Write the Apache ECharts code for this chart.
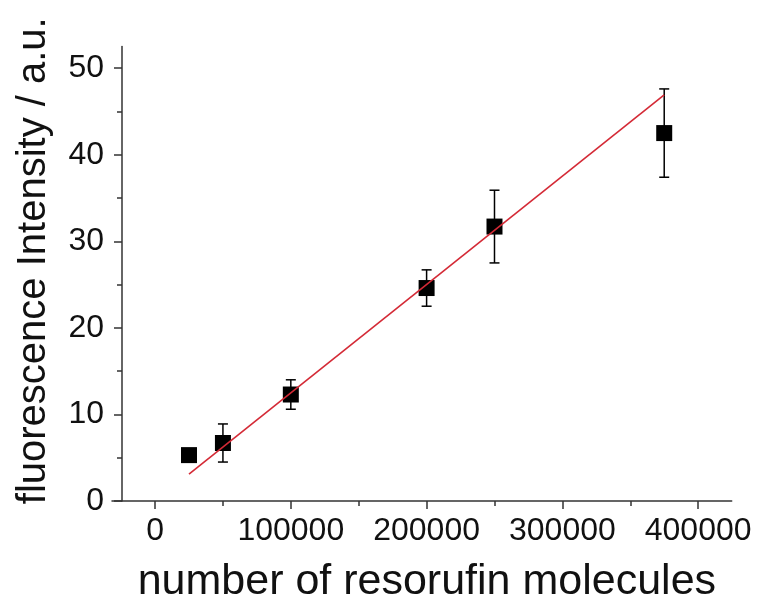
<!DOCTYPE html>
<html>
<head>
<meta charset="utf-8">
<script src="https://cdn.jsdelivr.net/npm/echarts@6/dist/echarts.min.js"></script>
<style>
html,body{margin:0;padding:0;background:#fff;}
#chart{width:761px;height:604px;}
</style>
</head>
<body>
<div id="chart"></div>
<script>
// Data
const xValues = [25000, 50000, 100000, 200000, 250000, 375000];
const yValues = [5.3, 6.7, 12.3, 24.6, 31.7, 42.5];
const yErrors = [0, 2.2, 1.7, 2.1, 4.2, 5.1];
const fitX = [25000, 375000];
const fitY = [3.1, 46.9];

// Tick labels / tick positions
const xTickLabels = [0, 100000, 200000, 300000, 400000];
const xMinorTicks = [50000, 150000, 250000, 350000];
const yTickLabels = [0, 10, 20, 30, 40, 50];
const yMinorTicks = [5, 15, 25, 35, 45];

const xTitle = 'number of resorufin molecules';
const yTitle = 'fluorescence Intensity / a.u.';

const FONT = '"Liberation Sans", Arial, sans-serif';
const AXIS_COLOR = '#333';
const TEXT_COLOR = '#111';

const points = xValues.map((x, i) => [x, yValues[i]]);
const errData = xValues.map((x, i) => [x, yValues[i] - yErrors[i], yValues[i] + yErrors[i]]);
const fitData = fitX.map((x, i) => [x, fitY[i]]);

const chart = echarts.init(document.getElementById('chart'), null, {renderer: 'canvas'});

const xMin = -31700, xMax = 424700;
const yMin = 0, yMax = 52.5;

chart.setOption({
  animation: false,
  backgroundColor: '#fff',
  grid: {left: 112, right: 29.3, top: 46.5, bottom: 103, outerBoundsMode: 'none', containLabel: false},
  xAxis: [
    {
      type: 'value', min: xMin, max: xMax, position: 'bottom',
      name: xTitle, nameLocation: 'middle', nameGap: 60,
      nameTextStyle: {fontFamily: FONT, fontSize: 43, color: TEXT_COLOR, padding: [0, 0, 0, 10]},
      axisLine: {show: true, onZero: false, lineStyle: {color: AXIS_COLOR, width: 1.5}},
      axisTick: {show: true, inside: false, length: 8, customValues: xTickLabels, lineStyle: {color: AXIS_COLOR, width: 1.5}},
      axisLabel: {show: true, customValues: xTickLabels, margin: 14, fontFamily: FONT, fontSize: 32, color: TEXT_COLOR, formatter: v => String(v)},
      splitLine: {show: false}
    },
    {
      type: 'value', min: xMin, max: xMax, position: 'bottom',
      axisLine: {show: false, onZero: false},
      axisTick: {show: true, inside: false, length: 5, customValues: xMinorTicks, lineStyle: {color: AXIS_COLOR, width: 1.5}},
      axisLabel: {show: false},
      splitLine: {show: false}
    }
  ],
  yAxis: [
    {
      type: 'value', min: yMin, max: yMax, position: 'left', offset: -10,
      name: yTitle, nameLocation: 'middle', nameGap: 68, nameRotate: 90,
      nameTextStyle: {fontFamily: FONT, fontSize: 40, color: TEXT_COLOR, padding: [0, 0, 0, 26]},
      axisLine: {show: true, onZero: false, lineStyle: {color: AXIS_COLOR, width: 1.5}},
      axisTick: {show: true, inside: false, length: 8, customValues: yTickLabels, lineStyle: {color: AXIS_COLOR, width: 1.5}},
      axisLabel: {show: true, customValues: yTickLabels, margin: 18, fontFamily: FONT, fontSize: 32, color: TEXT_COLOR},
      splitLine: {show: false}
    },
    {
      type: 'value', min: yMin, max: yMax, position: 'left', offset: -10,
      axisLine: {show: false, onZero: false},
      axisTick: {show: true, inside: false, length: 5, customValues: yMinorTicks, lineStyle: {color: AXIS_COLOR, width: 1.5}},
      axisLabel: {show: false},
      splitLine: {show: false}
    }
  ],
  series: [
    {
      type: 'custom', xAxisIndex: 0, yAxisIndex: 0, z: 2,
      data: errData,
      renderItem: function (params, api) {
        const x = api.value(0);
        const lo = api.coord([x, api.value(1)]);
        const hi = api.coord([x, api.value(2)]);
        const cap = 5;
        const style = {stroke: '#000', lineWidth: 1.5};
        return {
          type: 'group',
          children: [
            {type: 'line', shape: {x1: lo[0], y1: lo[1], x2: hi[0], y2: hi[1]}, style: style},
            {type: 'line', shape: {x1: lo[0] - cap, y1: lo[1], x2: lo[0] + cap, y2: lo[1]}, style: style},
            {type: 'line', shape: {x1: hi[0] - cap, y1: hi[1], x2: hi[0] + cap, y2: hi[1]}, style: style}
          ]
        };
      }
    },
    {
      type: 'scatter', xAxisIndex: 0, yAxisIndex: 0, z: 3,
      data: points, symbol: 'rect', symbolSize: 16,
      itemStyle: {color: '#000', opacity: 1}
    },
    {
      type: 'line', xAxisIndex: 0, yAxisIndex: 0, z: 4,
      data: fitData, showSymbol: false, symbol: 'none',
      lineStyle: {color: '#d42a36', width: 1.6}
    }
  ]
});
</script>
</body>
</html>
